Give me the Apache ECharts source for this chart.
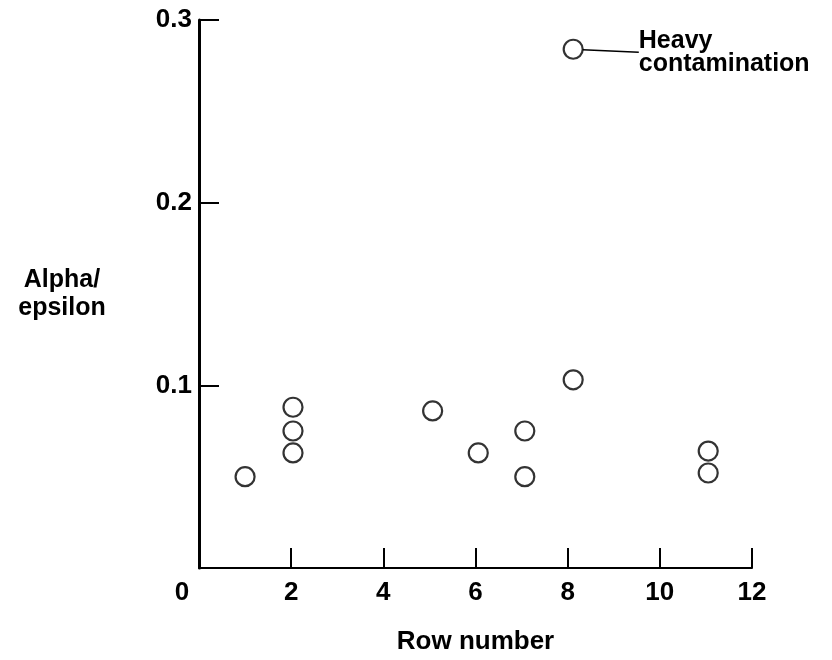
<!DOCTYPE html>
<html>
<head>
<meta charset="utf-8">
<script src="https://cdn.jsdelivr.net/npm/echarts@6/dist/echarts.min.js"></script>
<style>html,body{margin:0;padding:0;background:#fff;}#c{width:832px;height:660px;}</style>
</head>
<body>
<div id="c"></div>
<script>
const rowNumbers = [1, 2.04, 2.04, 2.04, 5.07, 6.06, 7.07, 7.07, 8.12, 8.12, 11.05, 11.05];
const alphaEpsilon = [0.050, 0.088, 0.075, 0.063, 0.086, 0.063, 0.075, 0.050, 0.103, 0.284, 0.064, 0.052];
const xTickLabels = ['0', '2', '4', '6', '8', '10', '12'];
const yTickLabels = ['', '0.1', '0.2', '0.3'];
const annotatedIndex = 9;
const annotationText = ['Heavy', 'contamination'];
const xTitle = 'Row number';
const yTitle = ['Alpha/', 'epsilon'];

const FONT = "'Liberation Sans', Arial, Helvetica, sans-serif";
const chart = echarts.init(document.getElementById('c'));

const data = rowNumbers.map((x, i) => {
  const item = { value: [x, alphaEpsilon[i]] };
  if (i === annotatedIndex) {
    item.label = {
      show: true,
      position: 'right',
      distance: 0,
      formatter: '{t|' + annotationText.join('}\n{t|') + '}',
      rich: { t: { color: '#000', fontFamily: FONT, fontSize: 25, fontWeight: 'bold', lineHeight: 23 } },
      color: '#000',
      opacity: 1,
      textBorderWidth: 0,
      fontFamily: FONT,
      fontSize: 25,
      fontWeight: 'bold',
      lineHeight: 23,
      align: 'left'
    };
    item.labelLine = { show: true, lineStyle: { color: '#000', width: 1.5, opacity: 1 } };
  }
  return item;
});

chart.setOption({
  animation: false,
  backgroundColor: '#fff',
  grid: { left: 199, right: 80, top: 20, bottom: 91, containLabel: false },
  xAxis: {
    type: 'value', min: 0, max: 12, interval: 2,
    axisLine: { show: true, onZero: false, lineStyle: { color: '#000', width: 2 } },
    axisTick: { show: true, inside: true, length: 20, lineStyle: { color: '#000', width: 2 } },
    splitLine: { show: false },
    axisLabel: {
      margin: 12, color: '#000', fontFamily: FONT, fontSize: 26, fontWeight: 'bold',
      formatter: (v) => {
        const idx = Math.round(v / 2);
        const t = xTickLabels[idx] ?? '';
        return idx === 0 ? '{z|' + t + '}' : t;
      },
      rich: { z: { padding: [0, 34, 0, 0], color: '#000', fontFamily: FONT, fontSize: 26, fontWeight: 'bold' } }
    },
    name: xTitle, nameLocation: 'middle', nameGap: 61,
    nameTextStyle: { color: '#000', fontFamily: FONT, fontSize: 26, fontWeight: 'bold' }
  },
  yAxis: {
    type: 'value', min: 0, max: 0.3, interval: 0.1,
    axisLine: { show: true, onZero: false, lineStyle: { color: '#000', width: 3 } },
    axisTick: { show: true, inside: true, length: 20, lineStyle: { color: '#000', width: 2 } },
    splitLine: { show: false },
    axisLabel: {
      margin: 7, color: '#000', fontFamily: FONT, fontSize: 26, fontWeight: 'bold',
      formatter: (v) => yTickLabels[Math.round(v * 10)] ?? ''
    },
    name: yTitle.join('\n'), nameLocation: 'middle', nameGap: 137, nameRotate: 0,
    nameTextStyle: { color: '#000', fontFamily: FONT, fontSize: 25, fontWeight: 'bold', lineHeight: 28, align: 'center', verticalAlign: 'middle', padding: [0, 0, 18, 0] }
  },
  series: [{
    type: 'scatter',
    symbol: 'circle',
    symbolSize: 19,
    itemStyle: { color: 'rgba(255,255,255,0)', borderColor: '#000', borderWidth: 2.2 },
    label: { show: false, color: '#000' },
    labelLayout: (p) => p.dataIndex === annotatedIndex ? { dx: 55, dy: 3 } : {},
    data: data
  }]
});
</script>
</body>
</html>
